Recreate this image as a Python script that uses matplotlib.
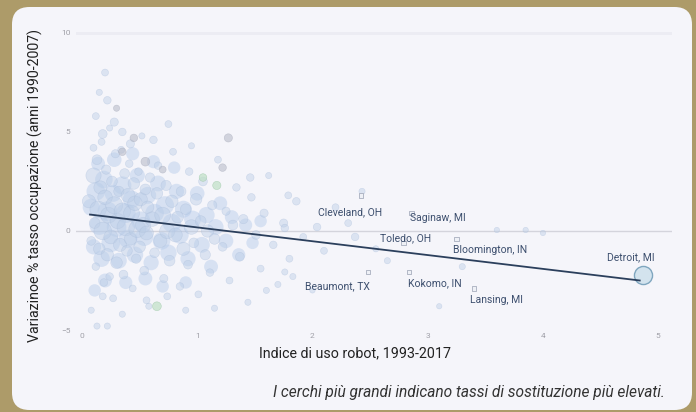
import numpy as np
import matplotlib.pyplot as plt
from matplotlib.patches import FancyBboxPatch

plt.rcParams['font.family'] = ['Roboto', 'DejaVu Sans']

# zone di pendolarismo: indice robot (x), variazione occupazione (y), tasso sostituzione (s)
cz_x = [0.06, 0.08, 0.10, 0.11, 0.12, 0.13, 0.14, 0.15, 0.16, 0.17, 0.18, 0.19, 0.20, 0.21,
        0.22, 0.23, 0.24, 0.25, 0.26, 0.27, 0.28, 0.29, 0.30, 0.31, 0.32, 0.33, 0.34, 0.35,
        0.36, 0.37, 0.38, 0.39, 0.40, 0.41, 0.42, 0.43, 0.44, 0.45, 0.46, 0.47, 0.48, 0.49,
        0.50, 0.51, 0.52, 0.53, 0.54, 0.55, 0.56, 0.57, 0.58, 0.59,
        0.61, 0.63, 0.65, 0.66, 0.68, 0.70, 0.71, 0.73, 0.74, 0.76, 0.78, 0.79, 0.81, 0.83,
        0.85, 0.86, 0.88, 0.90, 0.92, 0.93, 0.95, 0.97, 0.99, 1.01, 1.03, 1.05, 1.07, 1.09,
        1.11, 1.13, 1.15, 1.18,
        1.22, 1.25, 1.28, 1.31, 1.34, 1.37, 1.40, 1.44, 1.47, 1.51, 1.55, 1.58, 1.62, 1.66,
        1.70, 1.75, 1.80, 1.86, 1.92,
        0.20, 0.15, 0.22, 0.12, 0.28, 0.18, 0.35, 0.42, 0.10, 1.46, 0.75, 0.62, 0.95,
        0.24, 0.18, 0.22, 0.13, 0.56, 0.74, 1.60, 1.83, 0.35, 0.90, 1.15, 0.08,
        1.79, 1.76, 2.31, 2.37, 2.04, 1.76, 2.43, 2.10, 2.55, 2.20, 3.60, 3.85, 4.00, 3.30,
        3.10, 2.65, 2.00]
cz_y = [1.5, -0.5, 2.8, 0.4, -1.8, 3.6, 1.1, -0.9, 2.2, 4.5, 0.0, -2.6, 1.7, 3.1,
        -1.2, 0.8, 5.2, -0.3, 2.5, -3.4, 1.3, 3.9, -1.6, 0.5, 2.0, -0.7, 4.1, 1.0,
        -2.2, 2.9, 0.2, -1.0, 1.8, 3.4, -0.4, 0.9, -2.9, 2.4, 1.4, -1.4, 0.1, 3.0,
        -0.8, 1.6, 4.8, 0.3, -2.0, 2.1, -0.1, 1.2, -3.8, 2.7,
        0.6, -1.1, 1.9, 3.3, -0.5, 0.8, -2.4, 2.3, 0.0, -1.5, 1.5, 4.0, -0.2, 0.7,
        -2.8, 2.0, -0.9, 1.1, -1.7, 3.0, 0.2, -0.6, 1.6, -3.2, 0.5, 2.5, -1.2, 0.0,
        -2.1, 1.3, -0.4, 3.6,
        -0.8, 1.0, -2.5, 0.3, 2.2, -1.3, 0.6, -3.6, 1.7, -0.2, -1.9, 0.9, 2.8, -0.7,
        -2.7, 0.4, -1.4, 1.5, -0.3,
        8.0, 7.0, 6.6, 5.8, 5.5, 4.9, 5.0, 4.4, 4.2, 2.7, 5.4, 4.6, 4.3,
        -2.3, -3.3, -4.8, -4.8, -3.5, -3.3, -3.0, -2.3, -4.2, -4.0, -3.9, -4.0,
        1.8, 0.15, 0.4, -0.3, 0.2, -2.07, 2.0, -1.0, -0.9, 1.2, 0.05, 0.05, -0.1, -1.8,
        -3.8, -1.5, -3.0]
cz_s = [90, 40, 120, 60, 30, 50, 140, 70, 90, 25, 160, 30, 110, 45,
        80, 130, 20, 100, 60, 25, 150, 35, 70, 120, 55, 90, 25, 140,
        40, 50, 160, 60, 100, 30, 80, 130, 25, 70, 110, 45, 150, 30,
        70, 90, 20, 120, 40, 60, 100, 80, 20, 45,
        110, 50, 70, 30, 90, 130, 35, 55, 120, 60, 80, 25, 100, 70,
        30, 50, 90, 60, 40, 30, 110, 50, 70, 25, 60, 40, 55, 80,
        30, 45, 60, 25,
        40, 35, 25, 50, 30, 40, 45, 20, 30, 40, 25, 35, 20, 30,
        20, 35, 25, 30, 25,
        25, 20, 30, 25, 35, 40, 30, 35, 25, 30, 25, 30, 20,
        30, 25, 20, 20, 25, 25, 20, 20, 20, 20, 20, 20,
        25, 30, 25, 30, 30, 20, 20, 25, 20, 25, 15, 15, 15, 20,
        15, 20, 15]

# nucleo denso della nuvola (zone sovrapposte)
core_x = [0.08, 0.10, 0.12, 0.15, 0.17, 0.19, 0.22, 0.25, 0.27, 0.30, 0.32, 0.35, 0.38,
          0.40, 0.43, 0.46, 0.48, 0.51, 0.54, 0.57, 0.60, 0.63, 0.66, 0.69, 0.72, 0.75,
          0.78, 0.82, 0.85, 0.88, 0.92, 0.96, 1.00, 1.04, 1.08, 1.12, 1.16, 1.20, 1.25,
          1.30, 1.36, 1.42, 1.48, 1.55, 0.14, 0.28, 0.44, 0.20, 0.38, 0.55, 0.70, 0.90,
          0.11, 0.62, 0.80]
core_y = [1.2, -0.8, 2.0, 0.3, -1.4, 2.6, 1.0, -0.6, 1.9, 0.2, -1.5, 2.3, 0.9,
          -0.4, 1.6, -1.2, 2.8, 0.5, -0.3, 1.8, -1.6, 0.9, 2.4, -0.5, 1.3, -1.1,
          0.4, 2.0, -0.2, 1.1, -1.4, 0.6, 1.9, -0.7, 0.8, -1.8, 0.2, 1.4, -0.5,
          0.7, -1.2, 0.3, -0.6, 0.5, 3.4, 3.6, 3.9, -2.5, -2.6, -2.4, -2.8, -2.6,
          -3.0, 3.5, 3.2]
core_s = [150, 120, 180, 200, 140, 160, 200, 180, 150, 200, 130, 170, 200,
          180, 160, 140, 120, 190, 170, 150, 120, 180, 130, 160, 170, 140,
          180, 120, 160, 150, 120, 150, 110, 130, 140, 100, 130, 100, 110,
          100, 90, 90, 80, 80, 100, 110, 90, 100, 90, 100, 80, 80,
          80, 90, 80]

grey_x = [1.27, 1.22, 0.35, 0.55, 0.70, 0.45, 0.30]
grey_y = [4.7, 3.2, 4.0, 3.5, 3.1, 4.7, 6.2]
grey_s = [35, 30, 30, 40, 25, 30, 20]

green_x = [1.05, 1.17, 0.65]
green_y = [2.7, 2.3, -3.8]
green_s = [30, 35, 40]

# zone evidenziate
hl_names = ['Cleveland, OH', 'Saginaw, MI', 'Toledo, OH', 'Bloomington, IN',
            'Beaumont, TX', 'Kokomo, IN', 'Lansing, MI', 'Detroit, MI']
hl_x = [2.42, 2.86, 2.79, 3.25, 2.48, 2.84, 3.40, 4.87]
hl_y = [1.8, 0.9, -0.6, -0.4, -2.07, -2.07, -2.9, -2.2]
hl_s = [10, 10, 10, 10, 10, 10, 10, 170]
lab_x = [2.33, 3.09, 2.81, 3.54, 2.22, 3.06, 3.60, 4.76]
lab_y = [0.96, 0.66, -0.35, -0.96, -2.78, -2.63, -3.48, -1.31]

fit_x = [0.07, 4.84]
fit_y = [0.83, -2.5]

xticks = [0, 1, 2, 3, 4, 5]
yticks = [-5, 0, 5, 10]

fig = plt.figure(figsize=(6.96, 4.12), dpi=100)
fig.patch.set_facecolor('#AD9B69')
panel = FancyBboxPatch((12 / 696, 2 / 412), 680 / 696, 403 / 412,
                       boxstyle='round,pad=0,rounding_size=0.025',
                       transform=fig.transFigure, facecolor='#F5F5FA',
                       edgecolor='none', mutation_aspect=696 / 412, zorder=-5)
fig.patches.append(panel)

ax = fig.add_axes([76 / 696, 1 - 331 / 412, 596 / 696, 303 / 412])
ax.set_facecolor('none')
ax.set_xlim(-0.052, 5.12)
ax.set_ylim(-5.05, 10.25)

ax.axhline(0, color='#D4D4DC', lw=1.0, zorder=1)
ax.axhline(10, color='#ECECF3', lw=2.0, zorder=1)

ax.scatter(core_x, core_y, s=core_s, facecolor='#B3C9EA', edgecolor='none',
           alpha=0.45, zorder=2)
ax.scatter(cz_x, cz_y, s=cz_s, facecolor='#BCCEE7', edgecolor='#A8BCDA',
           linewidth=0.4, alpha=0.45, zorder=2)
ax.scatter(grey_x, grey_y, s=grey_s, facecolor='#B5B8C6', edgecolor='#A4A8B8',
           linewidth=0.4, alpha=0.55, zorder=2)
ax.scatter(green_x, green_y, s=green_s, facecolor='#BFE0C6', edgecolor='#A0CAAA',
           linewidth=0.4, alpha=0.7, zorder=2)
ax.scatter(hl_x[:-1], hl_y[:-1], s=hl_s[:-1], marker='s', facecolor='#EEF0F6',
           edgecolor='#A8AEBE', linewidth=0.6, zorder=3)
ax.scatter(hl_x[-1:], hl_y[-1:], s=hl_s[-1:], facecolor='#D3E3EE',
           edgecolor='#7FA6BF', linewidth=1.0, zorder=3)

ax.plot(fit_x, fit_y, color='#2B3F5C', lw=1.3, zorder=4)

for name, lx, ly in zip(hl_names, lab_x, lab_y):
    ax.text(lx, ly, name, fontsize=7.5, color='#3D4F6E', ha='center',
            va='center', zorder=5)

ax.set_xticks(xticks)
ax.set_yticks(yticks)
ax.tick_params(length=0, labelsize=6, labelcolor='#A0A0A8')
ax.tick_params(axis='x', pad=1.5)
ax.tick_params(axis='y', pad=4)
for sp in ax.spines.values():
    sp.set_visible(False)

fig.text(355 / 696, 1 - 353 / 412, 'Indice di uso robot, 1993-2017',
         fontsize=10.3, color='#222222', ha='center', va='center')
fig.text(35 / 696, 1 - 186 / 412, 'Variazinoe % tasso occupazione (anni 1990-2007)',
         fontsize=10.2, color='#222222', ha='center', va='center', rotation=90)
fig.text(665 / 696, 1 - 393 / 412,
         'I cerchi più grandi indicano tassi di sostituzione più elevati.',
         fontsize=11.2, color='#333333', ha='right', va='center', style='italic')

fig.savefig('out.png', dpi=100, facecolor=fig.get_facecolor())
